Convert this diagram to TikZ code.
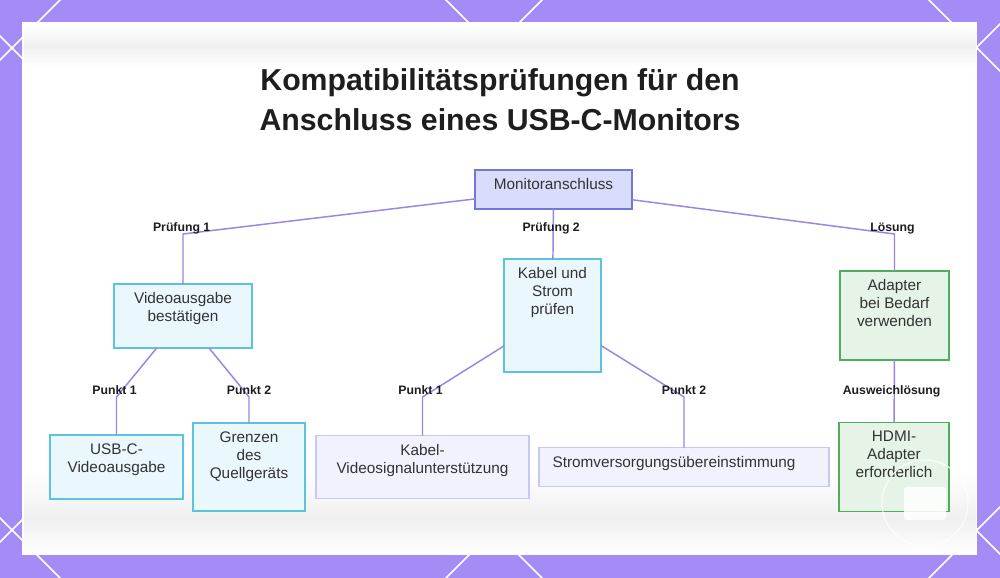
\documentclass[tikz,border=0pt]{standalone}
\usepackage{fontspec}
\setmainfont{Liberation Sans}
\usetikzlibrary{positioning,calc}
\definecolor{bgV}{HTML}{A58BF6}
\definecolor{conn}{HTML}{9C85E1}
\definecolor{ink}{HTML}{333333}
\definecolor{inkB}{HTML}{1E1E1E}
\definecolor{monF}{HTML}{D9DCFB}
\definecolor{monL}{HTML}{7278D8}
\definecolor{cyF}{HTML}{EAF7FD}
\definecolor{cyL}{HTML}{5CC3DC}
\definecolor{lvF}{HTML}{F1F2FD}
\definecolor{lvL}{HTML}{C6C9F3}
\definecolor{grF}{HTML}{E5F4E6}
\definecolor{grL}{HTML}{4DAF5E}
\tikzset{
  every node/.style={font=\fontsize{11.5}{13.5}\selectfont},
  box/.style ={rectangle, line width=1.1pt, inner sep=0pt, outer sep=0pt},
  mbox/.style={box, fill=monF, draw=monL},
  cbox/.style={box, fill=cyF,  draw=cyL},
  lbox/.style={box, fill=lvF,  draw=lvL},
  gbox/.style={box, fill=grF,  draw=grL},
  txt/.style ={anchor=north, yshift=-6.2pt, align=center, inner sep=0pt, text=ink},
  elbl/.style={anchor=base, yshift=2pt, inner sep=0pt, text=inkB,
               font=\bfseries\fontsize{9.2}{11}\selectfont},
  con/.style ={draw=conn, line width=1.1pt},
  deco/.style={draw=white, line width=1.1pt},
}

\begin{document}
\begin{tikzpicture}[x=0.75pt, y=-0.75pt]
\useasboundingbox (0,0) rectangle (1000,578);

% frame: purple with the diamond lattice, white panel on top
\fill[bgV] (0,0) rectangle (1000,578);
\begin{scope}
  \clip (0,0) rectangle (1000,578);
  \foreach \c in {-518,-36,446,929}
    \draw[deco] (\c-600,-600) -- (\c+1200,1200);
  \foreach \c in {60,542,1024,1507}
    \draw[deco] (\c+600,-600) -- (\c-1200,1200);
\end{scope}
\fill[white] (22,22) rectangle (977,555);

% blurred photo behind the chart
\shade[top color=white, bottom color=white, middle color=black!6] (24,26) rectangle (976,66);
\shade[top color=white, bottom color=black!6] (24,470) rectangle (976,520);
\shade[top color=black!6, bottom color=white] (24,520) rectangle (976,553);

\node[font=\bfseries\fontsize{22.7}{30}\selectfont, align=center, text=inkB] (title)
  at (500,100) {Kompatibilitätsprüfungen für den\\Anschluss eines USB-C-Monitors};

\node[mbox, minimum width=117.75pt, minimum height=29.25pt,
  label={[txt]north:Monitoranschluss}] (mon) at (553.5,189.5) {};

\node[cbox, minimum width=103.5pt, minimum height=48pt,
  label={[txt]north:{Videoausgabe\\bestätigen}}] (vid) at (183,316) {};
\node[cbox, minimum width=72.75pt, minimum height=84.75pt,
  label={[txt]north:{Kabel und\\Strom\\prüfen}}] (kab) at (552.5,315.5) {};
\node[gbox, minimum width=81.75pt, minimum height=66.75pt,
  label={[txt]north:{Adapter\\bei Bedarf\\verwenden}}] (ada) at (894.5,315.5) {};

\node[cbox, minimum width=99.75pt, minimum height=48pt,
  label={[txt]north:{USB-C-\\Videoausgabe}}] (usb) at (116.5,467) {};
\node[cbox, minimum width=84pt, minimum height=66pt, right=7.5pt of usb,
  label={[txt]north:{Grenzen\\des\\Quellgeräts}}] (gre) {};
\node[lbox, minimum width=159.75pt, minimum height=47.25pt, right=8.25pt of gre,
  label={[txt]north:{Kabel-\\Videosignalunterstützung}}] (ksig) {};
\node[lbox, minimum width=217.5pt, minimum height=29.25pt, right=7.5pt of ksig,
  label={[txt, xshift=-7.5pt]north:Stromversorgungsübereinstimmung}] (strom) {};
\node[gbox, minimum width=82.5pt, minimum height=66.75pt, right=7.5pt of strom,
  label={[txt]north:{HDMI-\\Adapter\\erforderlich}}] (hdmi) {};

\coordinate (lvlA) at (0,234);
\coordinate (lvlB) at (0,397);
\coordinate (c1) at (vid.north |- lvlA);
\coordinate (c3) at (ada.north |- lvlA);
\coordinate (c4) at (usb.north |- lvlB);
\coordinate (c5) at (gre.north |- lvlB);
\coordinate (c6) at (ksig.north |- lvlB);
\coordinate (c7) at (strom.north |- lvlB);

\draw[con] (mon) -- (c1) node[elbl, xshift=-1pt] {Prüfung 1} -- (vid);
\draw[con] (mon) -- node[elbl, xshift=-1.5pt] {Prüfung 2} (kab);
\draw[con] (mon) -- (c3) node[elbl, xshift=-1.5pt] {Lösung} -- (ada);
\draw[con] (vid) -- (c4) node[elbl, xshift=-1.5pt] {Punkt 1} -- (usb);
\draw[con] (vid) -- (c5) node[elbl] {Punkt 2} -- (gre);
\draw[con] (kab) -- (c6) node[elbl, xshift=-1.5pt] {Punkt 1} -- (ksig);
\draw[con] (kab) -- (c7) node[elbl] {Punkt 2} -- (strom);
\draw[con] (ada) -- node[elbl, yshift=-4.2pt, xshift=-2pt] {Ausweichlösung} (hdmi);

% watermark in the corner
\draw[white, line width=0.8pt, opacity=0.85] (925,503) circle (32.25pt);
\fill[white, opacity=0.85, rounded corners=2pt] (904,487) rectangle (946,520);

\end{tikzpicture}
\end{document}
